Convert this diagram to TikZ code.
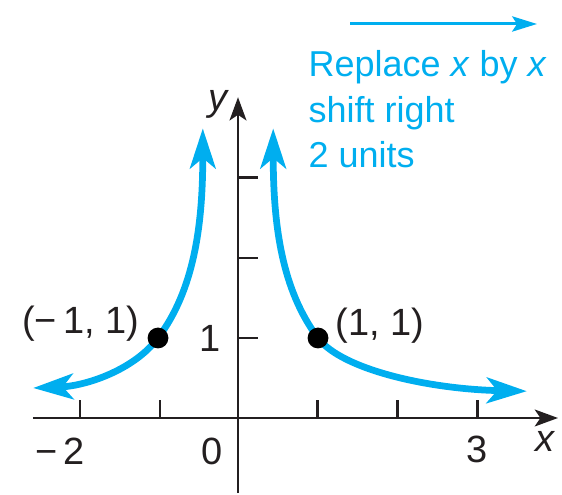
\documentclass[tikz,border=0pt]{standalone}
\usepackage{fontspec}
\setmainfont{Liberation Sans}
\usetikzlibrary{arrows.meta}
\definecolor{cyanblue}{RGB}{0,174,239}
\definecolor{ink}{RGB}{35,31,32}
\begin{document}
\begin{tikzpicture}[x=1cm,y=1cm,
  axis/.style={draw=ink,line width=1.06pt},
  axisarrow/.style={axis,-{Stealth[length=0.29cm,width=0.21cm,inset=0.07cm]}},
  tick/.style={draw=ink,line width=1.06pt},
  curve/.style={draw=cyanblue,line width=2.4pt,{Stealth[length=0.5cm,width=0.32cm,inset=0.13cm]}-{Stealth[length=0.5cm,width=0.32cm,inset=0.13cm]}},
  dot/.style={circle,fill=black,inner sep=0pt,minimum size=0.26cm},
  lbl/.style={inner sep=0pt,text=ink,font=\fontsize{13.5}{16.3}\selectfont},
  bluetxt/.style={inner sep=0pt,text=cyanblue,align=left,font=\fontsize{12.8}{16.3}\selectfont}
]
\useasboundingbox (-2.975,-0.9625) rectangle (4.05,5.225);
% axes
\coordinate (xl) at (-2.563,0);
\coordinate (xr) at (4.0,0);
\coordinate (yb) at (0,-0.94);
\coordinate (yt) at (0,4.01);
\draw[axisarrow] (xl) -- (xr);
\draw[axisarrow] (yb) -- (yt);
% ticks
\foreach \t in {-1.975,-0.975,0.99,1.99,2.99}
  \draw[tick] (\t,0) -- (\t,0.225);
\foreach \t in {1,2,3}
  \draw[tick] (0,\t) -- (0.25,\t);
% axis labels
\node[lbl,anchor=base] (xlab) at (3.85,-0.425) {\textit{x}};
\node[lbl,anchor=base] (ylab) at (-0.2375,3.84) {\textit{y}};
\node[lbl,anchor=base] (n3) at (2.99,-0.5625) {3};
\node[lbl,anchor=base] (nm2) at (-2.225,-0.5875) {−\,2};
\node[lbl,anchor=base] (n0) at (-0.325,-0.5875) {0};
\node[lbl,anchor=base] (n1) at (-0.35,0.825) {1};
% points
\coordinate (pa) at (-1,1);
\coordinate (pb) at (1,1);
% curves
\draw[curve] (-0.44,3.62) .. controls (-0.44,2.4) and (-0.55,1.6) .. (pa)
  .. controls (-1.3,0.6) and (-1.9,0.4) .. (-2.56,0.375);
\draw[curve] (0.44,3.62) .. controls (0.44,2.4) and (0.55,1.6) .. (pb)
  .. controls (1.3,0.6) and (2.4,0.36) .. (3.61,0.335);
\node[dot] (pl) at (pa) {};
\node[dot] (pr) at (pb) {};
\node[lbl,anchor=base east] (lpl) at (-1.225,1.05) {(−\,1, 1)};
\node[lbl,anchor=base west] (lpr) at (1.2125,1.025) {(1, 1)};
% shift annotation
\coordinate (as) at (1.4,4.925);
\coordinate (ae) at (3.7375,4.925);
\draw[draw=cyanblue,line width=1.06pt,-{Stealth[length=0.31cm,width=0.19cm,inset=0.06cm]}] (as) -- (ae);
\node[bluetxt,anchor=base west] (note) at (0.875,3.125) {Replace \textit{x} by \textit{x}\\shift right\\2 units};
\end{tikzpicture}
\end{document}
